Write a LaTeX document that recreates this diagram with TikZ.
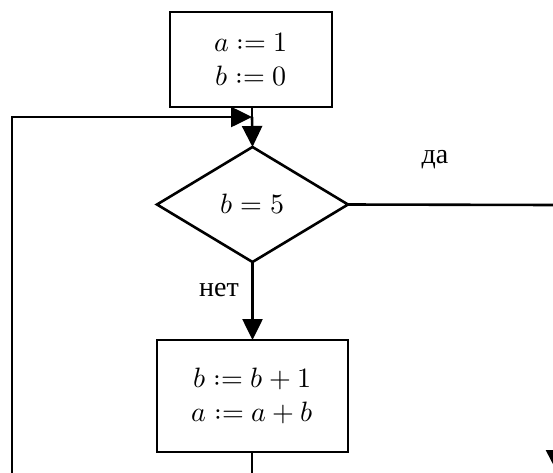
\documentclass[tikz,border=0pt]{standalone}
\usepackage{fontspec}
\setmainfont{Liberation Serif}
\usepackage{unicode-math}
\setmathfont{Latin Modern Math}
\usetikzlibrary{shapes.geometric,arrows.meta}
\begin{document}
\begin{tikzpicture}[x=1pt,y=-1pt,
  line width=2.6pt,
  every node/.style={inner sep=0pt, outer sep=0pt},
  blockbox/.style={draw, rectangle, align=center, font=\fontsize{28}{34}\selectfont},
  decision/.style={draw, diamond, font=\fontsize{28}{30}\selectfont},
  lbl/.style={font=\fontsize{28}{30}\selectfont},
  arr/.style={-{Triangle[length=21pt,width=20pt]}},
  bigarr/.style={-{Triangle[length=22pt,width=22pt]}}]
\useasboundingbox (0,0) rectangle (553,472);
\fill[white] (0,0) rectangle (553,472);
\clip (0,0) rectangle (553,472);

\node[blockbox, minimum width=162pt, minimum height=95pt] (init) at (251,59.5) {$a\mathrel{:=}1$\\$b\mathrel{:=}0$};
\node[decision, minimum width=191pt, minimum height=115pt] (cond) at (252.5,204.5) {$b=5$};
\node[blockbox, minimum width=191pt, minimum height=112pt] (body) at (252.5,396) {$b\mathrel{:=}b+1$\\$a\mathrel{:=}a+b$};

\node[lbl] (yes) at (435,160) {да};
\node[lbl] (no) at (219,290) {нет};

\coordinate (join) at (252,117);
\coordinate (loopbot) at (12,480);
\coordinate (loopcorner) at (12,117);
\coordinate (bodyout) at (252,480);
\coordinate (rightcorner) at (557,205);
\coordinate (rightend) at (557,472);

\draw (init.south -| join) -- (join);
\draw[arr] (join) -- (cond.north);
\draw[arr] (loopbot) -- (loopcorner) -- (join);
\draw[arr] (cond.south) -- (body.north);
\draw (body.south -| bodyout) -- (bodyout);
\draw[bigarr] (cond.east) -- (rightcorner) -- (rightend);
\end{tikzpicture}
\end{document}
